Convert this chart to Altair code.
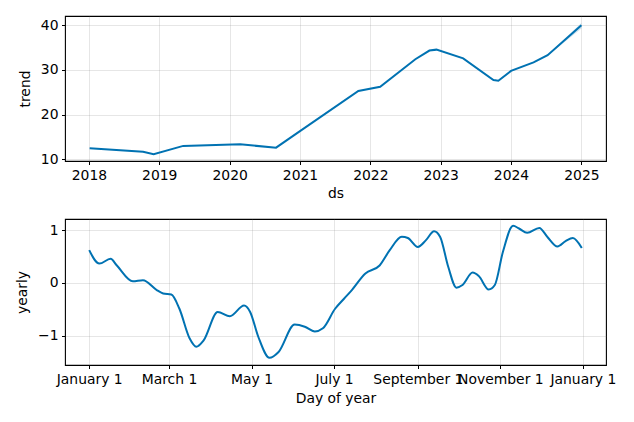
import altair as alt
import pandas as pd

# Trend component (decimal year, value)
trend_ds = [2018.01, 2018.77, 2018.92, 2019.34, 2020.15, 2020.66, 2021.0, 2021.83,
            2022.14, 2022.64, 2022.84, 2022.94, 2023.32, 2023.75, 2023.82, 2024.0,
            2024.32, 2024.52, 2025.0]
trend_vals = [12.45, 11.7, 11.15, 13.0, 13.35, 12.6, 16.3, 25.3,
              26.25, 32.4, 34.35, 34.55, 32.6, 27.75, 27.6, 29.8,
              31.7, 33.3, 40.0]
trend_lower = [12.45, 11.7, 11.15, 13.0, 13.35, 12.6, 16.3, 25.3,
               26.25, 32.4, 34.35, 34.55, 32.6, 27.75, 27.6, 29.8,
               31.7, 33.2, 39.3]
trend_upper = [12.45, 11.7, 11.15, 13.0, 13.35, 12.6, 16.3, 25.3,
               26.25, 32.4, 34.35, 34.55, 32.6, 27.75, 27.6, 29.8,
               31.7, 33.4, 40.5]

# Yearly seasonality (day of year, value)
yearly_day = [0, 7.5, 15.8, 20.3, 32.3, 39.7, 50.2, 54.7, 60.7, 66.7, 74.2, 79.2,
              84.6, 95, 104, 114.5, 119, 125, 133.3, 140, 151.9, 159.4, 166.8,
              172.8, 181.8, 188.4, 193.7, 204.2, 214.7, 222.2, 231.1, 235.6, 243,
              249, 255, 259.5, 265.5, 271.5, 276, 283.5, 288, 295.4, 299.9, 305.9,
              313.4, 317.8, 323.8, 332.8, 338.8, 346.2, 352.2, 357.6, 364.2]
yearly_vals = [0.62, 0.365, 0.455, 0.334, 0.03, 0.05, -0.14, -0.2, -0.22, -0.49,
               -1.05, -1.21, -1.09, -0.55, -0.63, -0.43, -0.55, -1.02, -1.42, -1.31,
               -0.79, -0.83, -0.92, -0.86, -0.49, -0.3, -0.15, 0.18, 0.33, 0.62,
               0.875, 0.85, 0.68, 0.81, 0.98, 0.87, 0.3, -0.09, -0.04, 0.195, 0.13,
               -0.125, -0.04, 0.59, 1.08, 1.03, 0.95, 1.04, 0.87, 0.69, 0.79, 0.85, 0.66]

year_ticks = [2018, 2019, 2020, 2021, 2022, 2023, 2024, 2025]
day_ticks = [0, 59, 120, 181, 243, 304, 365]
day_labels = ["January 1", "March 1", "May 1", "July 1", "September 1", "November 1", "January 1"]

BLUE = "#0072B2"
FONT = "DejaVu Sans"
FS = 13.9

trend_df = pd.DataFrame({"ds": trend_ds, "trend": trend_vals,
                         "lo": trend_lower, "hi": trend_upper})
yearly_df = pd.DataFrame({"day": yearly_day, "yearly": yearly_vals})

label_expr = ""
for v, lab in zip(day_ticks, day_labels):
    label_expr += f"datum.value == {v} ? '{lab}' : "
label_expr += "''"

axis_common = dict(
    grid=True, gridColor="#808080", gridOpacity=0.2, gridWidth=1,
    domain=False, tickColor="black", tickSize=3.5, tickWidth=1,
    labelPadding=3.5, labelFont=FONT, labelFontSize=FS, labelColor="black",
    titleFont=FONT, titleFontSize=FS, titleFontWeight="normal", titleColor="black",
    labelFlush=False, labelOverlap=False,
)

x_top = alt.X("ds:Q", title="ds",
              scale=alt.Scale(domain=[2017.66, 2025.35], nice=False, zero=False),
              axis=alt.Axis(values=year_ticks, format="d", titlePadding=5, **axis_common))
y_top = alt.Y("trend:Q", title="trend",
              scale=alt.Scale(domain=[9.62, 42.08], nice=False, zero=False),
              axis=alt.Axis(values=[10, 20, 30, 40], format="d", titlePadding=8, **axis_common))

band = alt.Chart(trend_df).mark_area(color=BLUE, opacity=0.2).encode(
    x=x_top, y=alt.Y("lo:Q", scale=alt.Scale(domain=[9.62, 42.08], nice=False, zero=False)),
    y2="hi:Q")
tline = alt.Chart(trend_df).mark_line(color=BLUE, strokeWidth=2).encode(x=x_top, y=y_top)
top = alt.layer(band, tline).properties(width=541, height=145)

x_bot = alt.X("day:Q", title="Day of year",
              scale=alt.Scale(domain=[-17.9, 382.1], nice=False, zero=False),
              axis=alt.Axis(values=day_ticks, labelExpr=label_expr, titlePadding=6, **axis_common))
y_bot = alt.Y("yearly:Q", title="yearly",
              scale=alt.Scale(domain=[-1.555, 1.21], nice=False, zero=False),
              axis=alt.Axis(values=[-1, 0, 1], format="d", titlePadding=8, **axis_common))
bottom = alt.Chart(yearly_df).mark_line(color=BLUE, strokeWidth=2, interpolate="monotone").encode(
    x=x_bot, y=y_bot).properties(width=541, height=146)

chart = alt.vconcat(top, bottom, spacing=58, bounds="flush").properties(
    padding={"left": 14, "top": 15, "right": 5, "bottom": 5},
    background="white",
).configure_view(stroke="black", strokeWidth=1.1)

chart.save("out.html", embed_options={"renderer": "svg", "actions": False})
